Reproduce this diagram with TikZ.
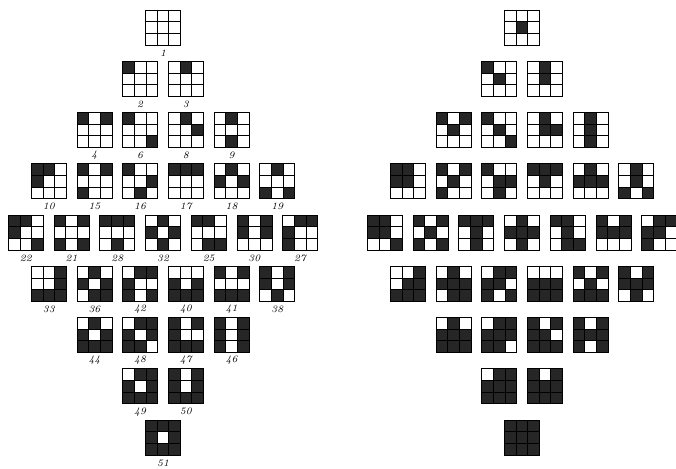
\documentclass[tikz,border=0pt]{standalone}
\usepackage{tikz}
\tikzset{
  gridline/.style={draw=black, line width=0.55pt},
  cellfill/.style={fill=black!85},
  tilelabel/.style={font=\scriptsize\itshape, inner sep=0pt}
}
\newcommand{\cellsz}{11.667}
% one 3x3 tile: x, y (top left), pattern, centre filled or not
\newcommand{\tilegrid}[4]{%
  \foreach \c [count=\k from 0] in #3 {
    \pgfmathtruncatemacro{\tcol}{mod(\k,3)}
    \pgfmathtruncatemacro{\trow}{div(\k,3)}
    \ifnum\c=1
      \fill[cellfill] ({#1+\tcol*\cellsz},{#2+\trow*\cellsz}) rectangle ++(\cellsz,\cellsz);
    \fi
  }
  \ifnum#4=1
    \fill[cellfill] ({#1+\cellsz},{#2+\cellsz}) rectangle ++(\cellsz,\cellsz);
  \fi
  \draw[gridline] (#1,#2) rectangle ++(35,35);
  \foreach \t in {1,2} {
    \draw[gridline] ({#1+\t*\cellsz},#2) -- ++(0,35);
    \draw[gridline] (#1,{#2+\t*\cellsz}) -- ++(35,0);
  }
}

\begin{document}
\begin{tikzpicture}[x=0.025cm, y=-0.025cm]
  \useasboundingbox (0,0) rectangle (676,468);

  % label/row/tiles in row/place/pattern
  \foreach \lab/\r/\n/\i/\pat in {
    1/1/1/0/{0,0,0,0,0,0,0,0,0},
    2/2/2/0/{1,0,0,0,0,0,0,0,0},
    3/2/2/1/{0,1,0,0,0,0,0,0,0},
    4/3/4/0/{1,0,1,0,0,0,0,0,0},
    6/3/4/1/{1,0,0,0,0,0,0,0,1},
    8/3/4/2/{0,1,0,0,0,1,0,0,0},
    9/3/4/3/{0,1,0,0,0,0,0,1,0},
    10/4/6/0/{1,1,0,1,0,0,0,0,0},
    15/4/6/1/{1,0,1,0,0,0,1,0,0},
    16/4/6/2/{1,0,0,0,0,1,0,1,0},
    17/4/6/3/{1,1,1,0,0,0,0,0,0},
    18/4/6/4/{0,1,0,1,0,1,0,0,0},
    19/4/6/5/{0,1,0,0,0,0,1,0,1},
    22/5/7/0/{1,1,0,1,0,0,0,0,1},
    21/5/7/1/{1,0,1,0,0,0,1,0,1},
    28/5/7/2/{1,1,1,0,0,0,0,1,0},
    32/5/7/3/{0,1,0,1,0,1,0,1,0},
    25/5/7/4/{1,1,0,0,0,0,0,1,1},
    30/5/7/5/{1,0,1,1,0,1,0,0,0},
    27/5/7/6/{0,1,1,1,0,0,1,0,0},
    33/6/6/0/{0,0,1,0,0,1,1,1,1},
    36/6/6/1/{0,1,0,1,0,1,0,1,1},
    42/6/6/2/{0,1,1,1,0,0,1,0,1},
    40/6/6/3/{0,0,0,1,0,1,1,1,1},
    41/6/6/4/{1,0,1,0,0,0,1,1,1},
    38/6/6/5/{1,0,1,1,0,1,0,1,0},
    44/7/4/0/{0,1,0,1,0,1,1,1,1},
    48/7/4/1/{0,1,1,1,0,1,1,1,0},
    47/7/4/2/{1,0,1,1,0,0,1,1,1},
    46/7/4/3/{1,0,1,1,0,1,1,0,1},
    49/8/2/0/{0,1,1,1,0,1,1,1,1},
    50/8/2/1/{1,0,1,1,0,1,1,1,1},
    51/9/1/0/{1,1,1,1,0,1,1,1,1}} {
    \pgfmathsetmacro{\gx}{145.5+(\i-(\n-1)/2)*45.7}
    \pgfmathsetmacro{\gy}{10+51.25*(\r-1)}
    \pgfmathsetmacro{\rx}{\gx+359}
    \tilegrid{\gx}{\gy}{\pat}{0}
    \tilegrid{\rx}{\gy}{\pat}{1}
    \node[tilelabel] (lab\lab) at ({\gx+17.5},{\gy+43}) {\lab};
  }
\end{tikzpicture}
\end{document}
